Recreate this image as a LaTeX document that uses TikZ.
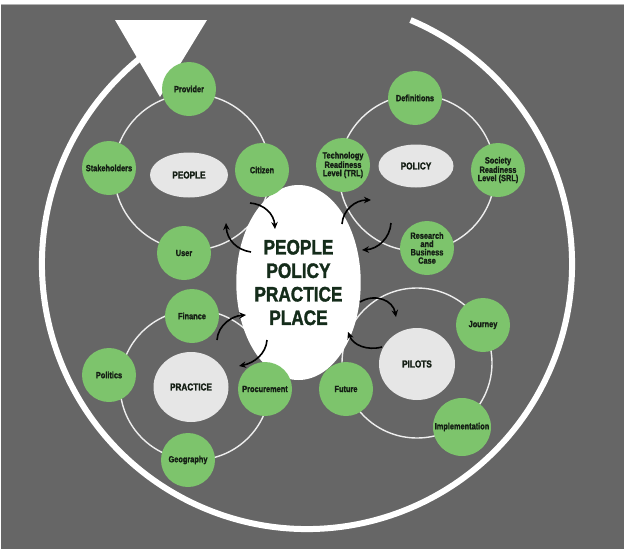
\documentclass[tikz,border=0pt]{standalone}
\usepackage{fontspec}
\setmainfont{Liberation Sans}
\newfontfamily\cond[FakeStretch=0.82, BoldFeatures={FakeBold=1.5}]{Liberation Sans}
\usetikzlibrary{arrows.meta,shapes.geometric}
\definecolor{bg}{HTML}{666666}
\definecolor{leafgreen}{HTML}{7DC46C}
\definecolor{hubgray}{HTML}{E6E6E6}
\definecolor{ink}{HTML}{141E14}
\definecolor{deep}{HTML}{142C1A}
\definecolor{ringline}{HTML}{EEEEEE}
\tikzset{
  leaf/.style={circle, fill=leafgreen, minimum size=54pt, inner sep=0pt, align=center,
    font=\cond\bfseries\fontsize{9}{8.3}\selectfont, text=ink},
  hub/.style={ellipse, fill=hubgray, inner sep=0pt,
    font=\cond\bfseries\fontsize{10}{12}\selectfont, text=ink},
  ring/.style={draw=ringline, line width=1.4pt},
  turn/.style={-{Stealth[length=7pt,width=6.5pt]}, line width=1.6pt, black},
}
\begin{document}
\begin{tikzpicture}[x=1pt,y=-1pt]
\useasboundingbox (0,0) rectangle (624,549);
\fill[white] (0,0) rectangle (624,549);
\fill[bg] (1,4.5) rectangle (624,549);
\draw[line width=0.6pt, gray!60] (1,4.5) -- (624,4.5);

% outer cycle arrow
\coordinate (cyc) at (307,264);
\draw[white, line width=6pt] (cyc) ++(-67:265) arc[start angle=-67, end angle=232, radius=265];
\coordinate (hA) at (115,20);
\coordinate (hB) at (207,20);
\coordinate (hC) at (160,97);
\fill[white] (hA) -- (hB) -- (hC) -- cycle;

% rings
\draw[ring] (192,172) circle[radius=78];
\draw[ring] (417,173) circle[radius=78];
\draw[ring] (195,385) circle[radius=75];
\draw[ring] (417,363) circle[radius=75];

% central ellipse
\node[ellipse, fill=white, minimum width=123pt, minimum height=195pt, inner sep=0pt,
  align=center, text=deep, font=\cond\bfseries\fontsize{21}{23.5}\selectfont]
  (core) at (298.5,282.5) {PEOPLE\\POLICY\\PRACTICE\\PLACE};

% hubs
\node[hub, minimum width=78pt, minimum height=45pt] (people) at (189,175) {PEOPLE};
\node[hub, minimum width=75pt, minimum height=43pt] (policy) at (416,166) {POLICY};
\node[hub, minimum width=75pt, minimum height=70pt] (practice) at (191,387) {PRACTICE};
\node[hub, minimum width=76pt, minimum height=72pt] (pilots) at (417,364) {PILOTS};

% leaves
\node[leaf] (provider) at (189,89) {Provider};
\node[leaf] (stake) at (109,168) {Stakeholders};
\node[leaf] (citizen) at (262,170) {Citizen};
\node[leaf] (user) at (184,253) {User};
\node[leaf] (defs) at (415,98) {Definitions};
\node[leaf] (trl) at (343,165) {Technology\\Readiness\\Level (TRL)};
\node[leaf] (srl) at (498,170) {Society\\Readiness\\Level (SRL)};
\node[leaf] (research) at (427,248) {Research\\and\\Business\\Case};
\node[leaf] (finance) at (192,316) {Finance};
\node[leaf] (politics) at (109,375) {Politics};
\node[leaf] (procure) at (265,389) {Procurement};
\node[leaf] (geo) at (188,460) {Geography};
\node[leaf] (journey) at (483,325) {Journey};
\node[leaf] (future) at (346,389) {Future};
\node[leaf, minimum size=58pt] (impl) at (462,427) {Implementation};

% exchange arrows
\coordinate (a1s) at (250,203); \coordinate (a1e) at (275,229);
\coordinate (a2s) at (251,252); \coordinate (a2e) at (226,223);
\coordinate (a3s) at (342,224); \coordinate (a3e) at (371,200);
\coordinate (a4s) at (391,223); \coordinate (a4e) at (362,250);
\coordinate (a5s) at (360,302); \coordinate (a5e) at (396,317);
\coordinate (a6s) at (382,347); \coordinate (a6e) at (348,332);
\coordinate (a7s) at (217,340); \coordinate (a7e) at (246,315);
\coordinate (a8s) at (267,340); \coordinate (a8e) at (239,366);
\draw[turn] (a1s) .. controls (264,204) and (274,214) .. (a1e);
\draw[turn] (a2s) .. controls (237,250) and (227,240) .. (a2e);
\draw[turn] (a3s) .. controls (343,210) and (355,200) .. (a3e);
\draw[turn] (a4s) .. controls (390,238) and (378,249) .. (a4e);
\draw[turn] (a5s) .. controls (375,293) and (393,300) .. (a5e);
\draw[turn] (a6s) .. controls (367,351) and (353,345) .. (a6e);
\draw[turn] (a7s) .. controls (218,325) and (232,316) .. (a7e);
\draw[turn] (a8s) .. controls (266,354) and (254,363) .. (a8e);
\end{tikzpicture}
\end{document}
